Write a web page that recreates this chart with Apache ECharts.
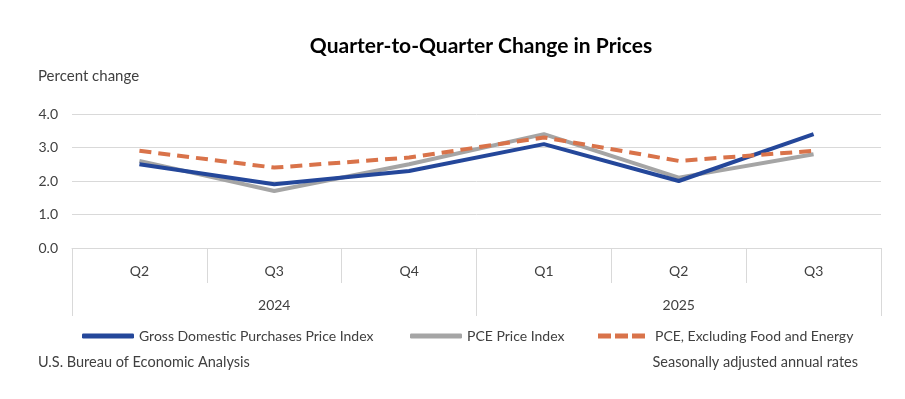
<!DOCTYPE html>
<html>
<head>
<meta charset="utf-8">
<script src="https://cdn.jsdelivr.net/npm/echarts@6/dist/echarts.min.js"></script>
<style>
  html, body { margin: 0; padding: 0; background: #fff; }
  #chart { width: 905px; height: 399px; }
</style>
</head>
<body>
<div id="chart"></div>
<script>
// data
const quarters = ['Q2', 'Q3', 'Q4', 'Q1', 'Q2', 'Q3'];
const years = ['2024', '2025'];
const gdpPurchases = [2.5, 1.9, 2.3, 3.1, 2.0, 3.4];
const pce = [2.6, 1.7, 2.5, 3.4, 2.1, 2.8];
const pceCore = [2.9, 2.4, 2.7, 3.3, 2.6, 2.9];
const yTicks = [0, 1, 2, 3, 4];

const font = 'Lato, "Noto Sans", sans-serif';
const txt = '#404040';
const gridColor = '#d9d9d9';

let myChart = echarts.init(document.getElementById('chart'));
let legendBase = {
  top: 324,
  itemWidth: 52,
  itemHeight: 5,
  itemGap: 0,
  textStyle: { fontFamily: font, fontSize: 14, color: txt }
};
let option = {
  animation: false,
  title: {
    text: 'Quarter-to-Quarter Change in Prices',
    left: 476, top: 31, textAlign: 'center',
    textStyle: { fontFamily: font, fontSize: 21, fontWeight: 'bold', color: '#000' }
  },
  graphic: [
    { type: 'text', left: 38, top: 69, style: { text: 'Percent change', font: '15px ' + font, fill: txt } },
    { type: 'text', left: 38, top: 355, style: { text: 'U.S. Bureau of Economic Analysis', font: '14.5px ' + font, fill: txt } },
    { type: 'text', right: 47, top: 355, style: { text: 'Seasonally adjusted annual rates', font: '14.5px ' + font, fill: txt } }
  ],
  legend: [
    Object.assign({ left: 77, icon: 'roundRect', data: ['Gross Domestic Purchases Price Index'] }, legendBase),
    Object.assign({ left: 405, icon: 'roundRect', data: ['PCE Price Index'] }, legendBase),
    Object.assign({
      left: 593,
      icon: 'path://M0,0h13v5h-13z M17,0h13v5h-13z M34,0h13v5h-13z M52,0h0.01v5h-0.01z',
      data: ['PCE, Excluding Food and Energy']
    }, legendBase)
  ],
  grid: { left: 72, right: 24, top: 114, bottom: 151 },
  xAxis: [
    {
      type: 'category',
      data: quarters,
      boundaryGap: true,
      axisLine: { lineStyle: { color: gridColor } },
      axisTick: { show: true, interval: 0, length: 35, lineStyle: { color: gridColor } },
      axisLabel: { margin: 16, fontFamily: font, fontSize: 14, color: txt }
    },
    {
      type: 'category',
      data: years,
      position: 'bottom',
      boundaryGap: true,
      axisLine: { show: false },
      axisTick: { show: true, interval: 0, length: 68, lineStyle: { color: gridColor } },
      axisLabel: { margin: 50, fontFamily: font, fontSize: 14, color: txt }
    }
  ],
  yAxis: {
    type: 'value',
    min: yTicks[0],
    max: yTicks[yTicks.length - 1],
    interval: 1,
    axisLine: { show: false },
    axisTick: { show: false },
    splitLine: { lineStyle: { color: gridColor } },
    axisLabel: {
      margin: 14, fontFamily: font, fontSize: 14, color: txt,
      formatter: v => v.toFixed(1)
    }
  },
  series: [
    {
      name: 'Gross Domestic Purchases Price Index',
      type: 'line', data: gdpPurchases, symbol: 'none', z: 3,
      lineStyle: { color: '#24479a', width: 4 },
      itemStyle: { color: '#24479a' }
    },
    {
      name: 'PCE Price Index',
      type: 'line', data: pce, symbol: 'none', z: 2,
      lineStyle: { color: '#a5a5a5', width: 4 },
      itemStyle: { color: '#a5a5a5' }
    },
    {
      name: 'PCE, Excluding Food and Energy',
      type: 'line', data: pceCore, symbol: 'none', z: 4,
      lineStyle: { color: '#d9734a', width: 4, type: [12, 7] },
      itemStyle: { color: '#d9734a' }
    }
  ]
};
myChart.setOption(option);
</script>
</body>
</html>
